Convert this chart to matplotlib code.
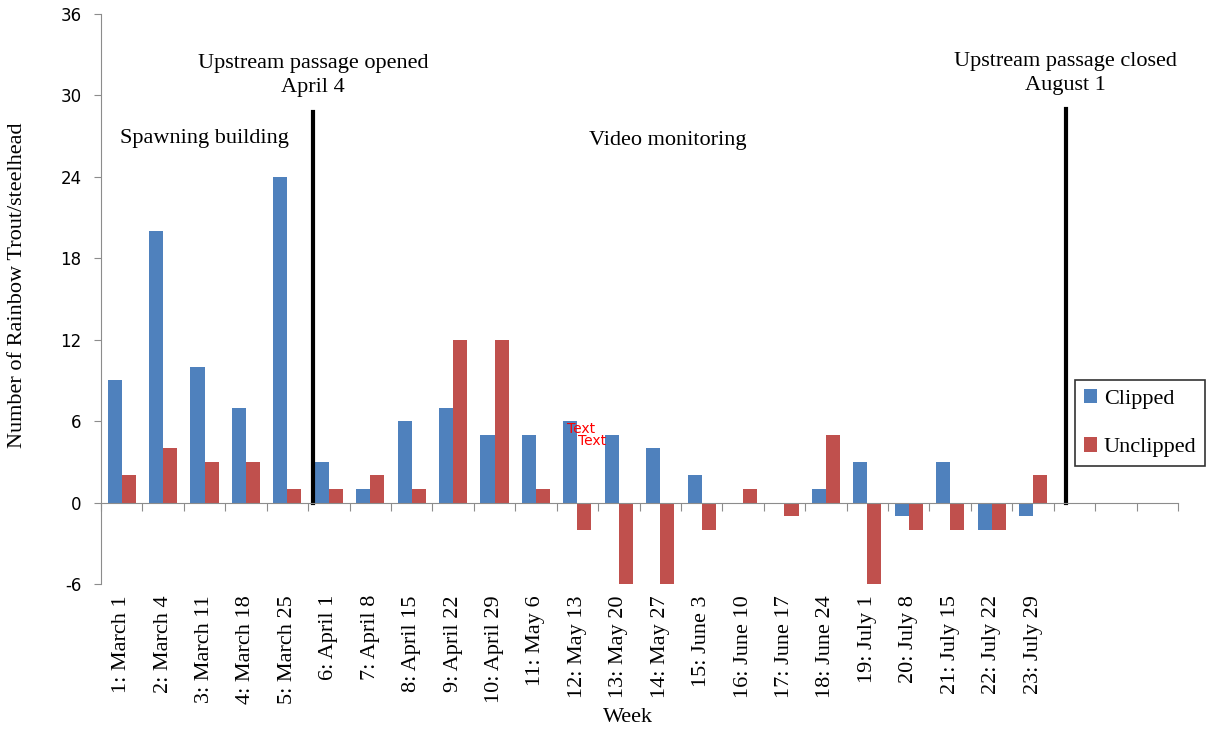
import matplotlib
matplotlib.use("Agg")
import matplotlib.pyplot as plt
import numpy as np

weeks = ["1: March 1", "2: March 4", "3: March 11", "4: March 18", "5: March 25",
         "6: April 1", "7: April 8", "8: April 15", "9: April 22", "10: April 29",
         "11: May 6", "12: May 13", "13: May 20", "14: May 27", "15: June 3",
         "16: June 10", "17: June 17", "18: June 24", "19: July 1", "20: July 8",
         "21: July 15", "22: July 22", "23: July 29"]
clipped = [9, 20, 10, 7, 24, 3, 1, 6, 7, 5, 5, 6, 5, 4, 2, 0, 0, 1, 3, -1, 3, -2, -1]
unclipped = [2, 4, 3, 3, 1, 1, 2, 1, 12, 12, 1, -2, -6, -6, -2, 1, -1, 5, -6, -2, -2, -2, 2]
n_slots = 26
y_ticks = [-6, 0, 6, 12, 18, 24, 30, 36]

serif = "Liberation Serif"
blue = "#4F81BD"
red = "#C0504D"
gray = "#8C8C8C"

fig = plt.figure(figsize=(12.09, 7.34), dpi=100)
ax = fig.add_axes([101 / 1209, 1 - 584 / 734, 1077 / 1209, 570 / 734])

x = np.arange(len(weeks))
w = 0.34
ax.bar(x - w / 2, clipped, w, color=blue, label="Clipped")
ax.bar(x + w / 2, unclipped, w, color=red, label="Unclipped")

ax.set_xlim(-0.5, n_slots - 0.5)
ax.set_ylim(-6, 36)
ax.set_yticks(y_ticks)
ax.set_yticklabels([str(v) for v in y_ticks], family="DejaVu Sans", fontsize=12)
ax.tick_params(axis="y", length=5, color=gray, pad=9)

for s in ["top", "right"]:
    ax.spines[s].set_visible(False)
ax.spines["left"].set_color(gray)
ax.spines["bottom"].set_color(gray)
ax.spines["bottom"].set_position(("data", 0))
ax.set_xticks(np.arange(n_slots + 1) - 0.5)
ax.set_xticklabels([])
ax.tick_params(axis="x", length=6, color=gray, direction="out")

for i, name in enumerate(weeks):
    ax.annotate(name, xy=(i, 0), xycoords=("data", "axes fraction"),
                xytext=(0, -8), textcoords="offset points", rotation=90,
                ha="center", va="top", fontsize=16, family=serif)

# passage lines
ax.plot([4.62, 4.62], [0, 28.8], color="black", lw=3)
ax.plot([22.79, 22.79], [0, 29], color="black", lw=3)

ax.text(4.62, 31.5, "Upstream passage opened\nApril 4", ha="center", va="center",
        fontsize=16, family=serif, linespacing=1.35)
ax.text(22.79, 31.6, "Upstream passage closed\nAugust 1", ha="center", va="center",
        fontsize=16, family=serif, linespacing=1.35)
ax.text(1.99, 26.8, "Spawning building", ha="center", va="center", fontsize=16, family=serif)
ax.text(13.19, 26.7, "Video monitoring", ha="center", va="center", fontsize=16, family=serif)
ax.text(10.76, 5.44, "Text", color="red", ha="left", va="center", fontsize=10)
ax.text(11.02, 4.56, "Text", color="red", ha="left", va="center", fontsize=10)

fig.text(18 / 1209, 1 - 285 / 734, "Number of Rainbow Trout/steelhead", rotation=90,
         ha="center", va="center", fontsize=16, family=serif)
fig.text(628 / 1209, 1 - 718 / 734, "Week", ha="center", va="center", fontsize=16, family=serif)

leg = fig.legend(loc="center", bbox_to_anchor=(1140 / 1209, 1 - 423 / 734),
                 prop={"family": serif, "size": 16}, frameon=True, fancybox=False,
                 edgecolor="black", handlelength=0.6, handleheight=0.6,
                 handletextpad=0.3, labelspacing=1.3, borderpad=0.4,
                 borderaxespad=0)
leg.get_frame().set_linewidth(1.2)

fig.savefig("out.png", dpi=100)
